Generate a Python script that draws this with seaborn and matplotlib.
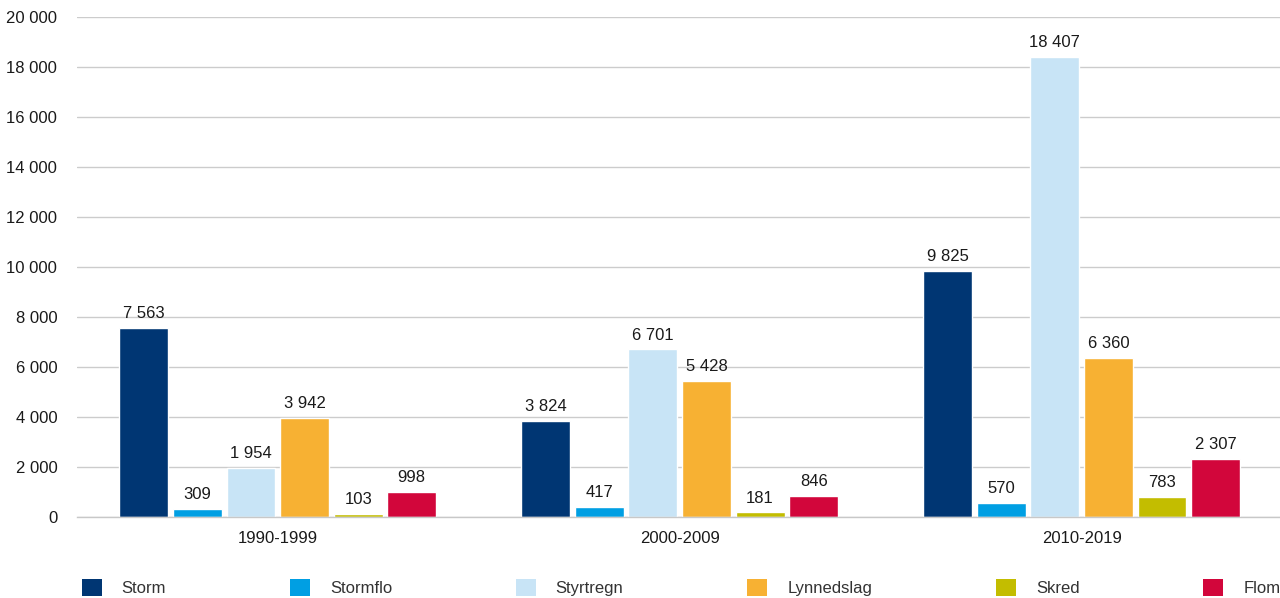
import matplotlib
matplotlib.use("Agg")
import matplotlib.pyplot as plt
import seaborn as sns
import pandas as pd
from matplotlib.ticker import FuncFormatter, MultipleLocator
from matplotlib.patches import Patch

periods = ["1990-1999", "2000-2009", "2010-2019"]
categories = ["Storm", "Stormflo", "Styrtregn", "Lynnedslag", "Skred", "Flom"]
storm = [7563, 3824, 9825]
stormflo = [309, 417, 570]
styrtregn = [1954, 6701, 18407]
lynnedslag = [3942, 5428, 6360]
skred = [103, 181, 783]
flom = [998, 846, 2307]
colors = ["#003673", "#009fe3", "#c8e4f6", "#f7b133", "#c3bd00", "#d2063b"]

series = [storm, stormflo, styrtregn, lynnedslag, skred, flom]
rows = []
for cat, vals in zip(categories, series):
    for p, v in zip(periods, vals):
        rows.append({"period": p, "type": cat, "value": v})
df = pd.DataFrame(rows)

sns.set_theme(style="white")
plt.rcParams["font.family"] = ["Liberation Sans", "DejaVu Sans"]

fig = plt.figure(figsize=(12.8, 5.98), dpi=100)
ax = fig.add_axes([0.060, 0.1355, 0.942, 0.836])

sns.barplot(data=df, x="period", y="value", hue="type", order=periods,
            hue_order=categories, palette=colors, width=0.80, gap=0.088,
            saturation=1, ax=ax, legend=False, errorbar=None)

fmt = lambda v: f"{int(round(v)):,}".replace(",", " ")
for cont in ax.containers:
    ax.bar_label(cont, labels=[fmt(b.get_height()) for b in cont],
                 padding=5, fontsize=12, color="#1a1a1a")

ax.set_xlim(-0.5, 2.5)
ax.set_ylim(0, 20000)
ax.yaxis.set_major_locator(MultipleLocator(2000))
ax.yaxis.set_major_formatter(FuncFormatter(lambda v, p: fmt(v)))
ax.grid(axis="y", color="#cccccc", linewidth=1)
ax.set_axisbelow(True)
for s in ["top", "right", "left"]:
    ax.spines[s].set_visible(False)
ax.spines["bottom"].set_color("#c8c8c8")
ax.spines["bottom"].set_linewidth(1)
ax.tick_params(axis="both", length=0, labelsize=12, colors="#1a1a1a")
ax.tick_params(axis="y", pad=14)
ax.tick_params(axis="x", pad=10)
ax.set_xlabel("")
ax.set_ylabel("")

handles = [Patch(facecolor=c, edgecolor="none") for c in colors]
fig.legend(handles, categories, loc="center left", ncol=6, mode="expand",
           bbox_to_anchor=(0.0585, 0.017, 0.947, 0), frameon=False,
           fontsize=12, handlelength=1.2, handleheight=1.2, handletextpad=1.2,
           labelcolor="#333333", borderaxespad=0)

fig.savefig("out.png", dpi=100)
